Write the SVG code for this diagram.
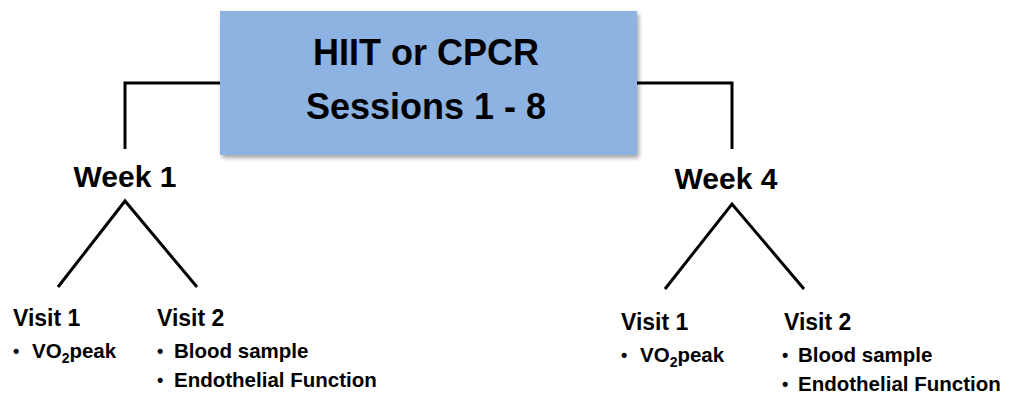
<svg xmlns="http://www.w3.org/2000/svg" width="1014" height="396" viewBox="0 0 1014 396">
  <defs>
    <filter id="shadow" x="-5%" y="-5%" width="115%" height="120%">
      <feDropShadow dx="2" dy="3" stdDeviation="2" flood-color="#000" flood-opacity="0.35"/>
    </filter>
  </defs>
  <style>
    text { font-family: "Liberation Sans", Arial, sans-serif; font-weight: bold; fill: #000; }
    .title { font-size: 36px; text-anchor: middle; }
    .week { font-size: 30px; text-anchor: middle; }
    .visit { font-size: 23px; }
    .item { font-size: 20.5px; }
    .b { font-size: 18px; }
    .conn { fill: none; stroke: #000; stroke-width: 3; stroke-linejoin: miter; }
  </style>
  <rect width="1014" height="396" fill="#fff"/>
  <g id="connectors">
    <polyline class="conn" points="222,83 125,83 125,149"/>
    <polyline class="conn" points="636,83 732,83 732,149"/>
    <polyline class="conn" points="58,287 125,201 197,287"/>
    <polyline class="conn" points="665,289 732,204 804,289"/>
  </g>
  <g id="sessions">
    <rect x="220" y="11" width="417" height="144" fill="#8DB3E2" filter="url(#shadow)"/>
    <text class="title" x="426" y="65">HIIT or CPCR</text>
    <text class="title" x="426" y="119">Sessions 1 - 8</text>
  </g>
  <g id="week1">
    <text class="week" x="125" y="187">Week 1</text>
  </g>
  <g id="week4">
    <text class="week" x="726" y="189">Week 4</text>
  </g>
  <g id="w1-visit1">
    <text class="visit" x="13" y="326">Visit 1</text>
    <text class="item" x="13" y="357"><tspan class="b">•</tspan><tspan x="32" y="358">VO</tspan><tspan font-size="14" dy="5">2</tspan><tspan dy="-5">peak</tspan></text>
  </g>
  <g id="w1-visit2">
    <text class="visit" x="157" y="326">Visit 2</text>
    <text class="item" x="157" y="357"><tspan class="b">•</tspan><tspan x="174" y="358">Blood sample</tspan></text>
    <text class="item" x="157" y="386"><tspan class="b">•</tspan><tspan x="174" y="387">Endothelial Function</tspan></text>
  </g>
  <g id="w4-visit1">
    <text class="visit" x="621" y="330">Visit 1</text>
    <text class="item" x="621" y="361"><tspan class="b">•</tspan><tspan x="640" y="362">VO</tspan><tspan font-size="14" dy="5">2</tspan><tspan dy="-5">peak</tspan></text>
  </g>
  <g id="w4-visit2">
    <text class="visit" x="784" y="330">Visit 2</text>
    <text class="item" x="782" y="361"><tspan class="b">•</tspan><tspan x="798" y="362">Blood sample</tspan></text>
    <text class="item" x="782" y="390"><tspan class="b">•</tspan><tspan x="798" y="391">Endothelial Function</tspan></text>
  </g>
</svg>
